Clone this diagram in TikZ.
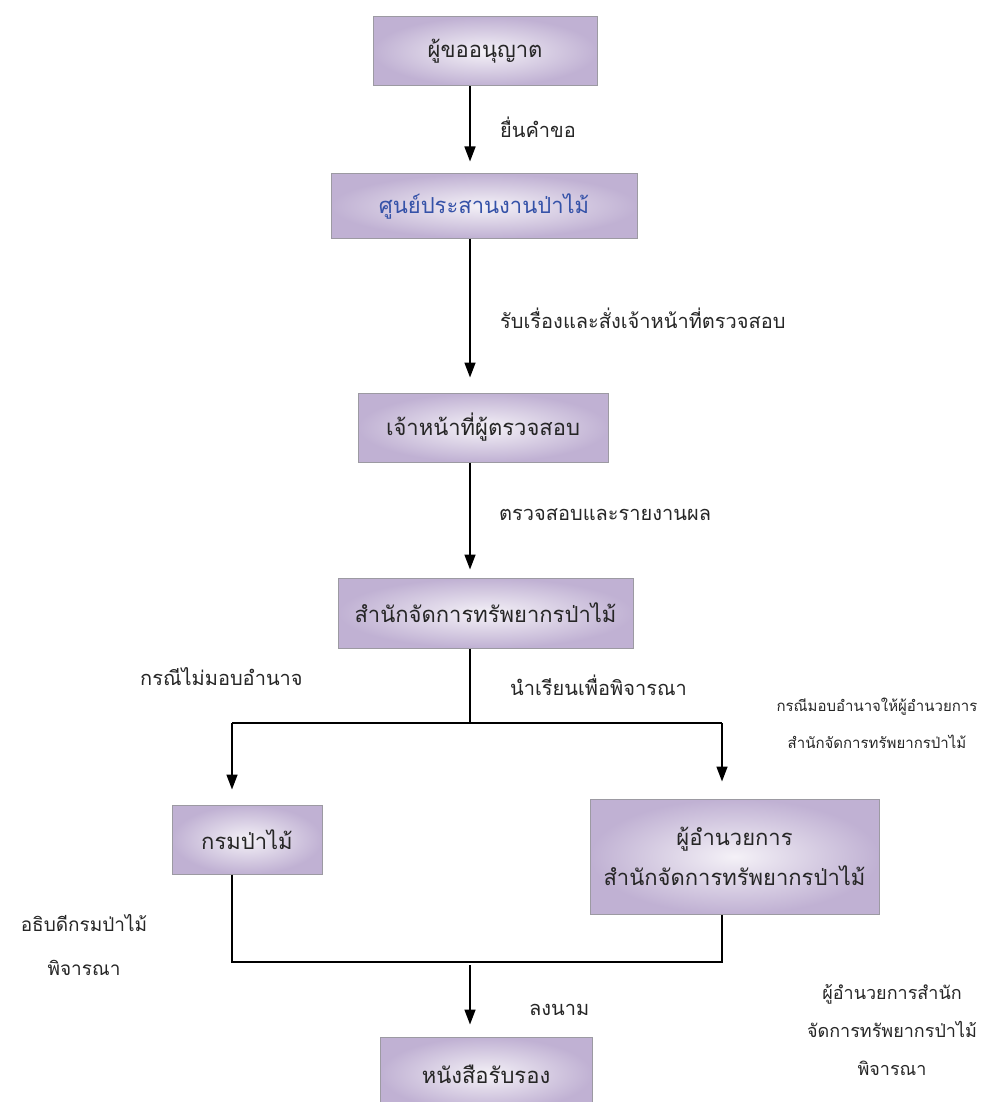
\documentclass[tikz,border=0pt]{standalone}
\usepackage{fontspec}
\usetikzlibrary{arrows.meta,calc}
\newfontfamily\thaifont[Script=Thai]{Loma}
\definecolor{boxin}{HTML}{F4F1F7}
\definecolor{boxout}{HTML}{C0B1D3}
\definecolor{boxline}{HTML}{9C9AA2}
\definecolor{bluetext}{HTML}{3552A8}
\tikzset{
  flowbox/.style={draw=boxline, line width=1pt, inner color=boxin, outer color=boxout,
    minimum width=#1, inner sep=0pt, font=\thaifont\fontsize{22}{40}\selectfont, text=black!85, align=center},
  lbl/.style={anchor=west, inner sep=0pt, font=\thaifont\fontsize{20}{24}\selectfont, text=black!85},
  smalllbl/.style={inner sep=0pt, align=center, text=black!85},
  conn/.style={line width=1.6pt, -{Triangle[width=11pt,length=15pt]}},
  plain/.style={line width=1.6pt}
}
\begin{document}
\begin{tikzpicture}[x=1pt,y=-1pt]
\clip (0,0) rectangle (999,1102);
\fill[white] (0,0) rectangle (999,1102);
% boxes
\node[flowbox=224pt, minimum height=69pt] (b1) at (485,51.5) {ผู้ขออนุญาต};
\node[flowbox=306pt, minimum height=64pt, text=bluetext] (b2) at (484,206) {ศูนย์ประสานงานป่าไม้};
\node[flowbox=250pt, minimum height=69pt] (b3) at (483,427.5) {เจ้าหน้าที่ผู้ตรวจสอบ};
\node[flowbox=295pt, minimum height=70pt] (b4) at (485.5,613) {สำนักจัดการทรัพยากรป่าไม้};
\node[flowbox=150pt, minimum height=69pt] (dept) at (247,839.5) {กรมป่าไม้};
\node[flowbox=289pt, minimum height=115pt] (dir) at (734.5,856.5) {ผู้อำนวยการ\\สำนักจัดการทรัพยากรป่าไม้};
\node[flowbox=212pt, minimum height=74pt] (cert) at (486,1074) {หนังสือรับรอง};
% spine and junctions
\coordinate (spine) at (470,0);
\coordinate (split) at (470,723);
\coordinate (sl) at (232,723);
\coordinate (sr) at (722,723);
\coordinate (jl) at (232,962);
\coordinate (jr) at (722,962);
\coordinate (jm) at (470,965);
% connectors
\draw[conn, shorten >=12pt] (b1.south -| spine) -- (b2.north -| spine);
\draw[conn, shorten >=15pt] (b2.south -| spine) -- (b3.north -| spine);
\draw[conn, shorten >=8pt] (b3.south -| spine) -- (b4.north -| spine);
\draw[plain] (b4.south -| spine) -- (split);
\draw[plain] (sl) -- (sr);
\draw[conn, shorten >=15pt] (sl) -- (dept.north -| sl);
\draw[conn, shorten >=17pt] (sr) -- (dir.north -| sr);
\draw[plain] (dept.south -| jl) -- (jl) -- (jr) -- (dir.south -| jr);
\draw[conn, shorten >=12pt] (jm) -- (cert.north -| jm);
% labels
\node[lbl] (l1) at (500,127) {ยื่นคำขอ};
\node[lbl] (l2) at (500,318) {รับเรื่องและสั่งเจ้าหน้าที่ตรวจสอบ};
\node[lbl] (l3) at (499,515) {ตรวจสอบและรายงานผล};
\node[lbl] (l4) at (140,677) {กรณีไม่มอบอำนาจ};
\node[lbl] (l5) at (510,685) {นำเรียนเพื่อพิจารณา};
\node[smalllbl, font=\thaifont\fontsize{15}{37}\selectfont] (l6) at (877,723) {กรณีมอบอำนาจให้ผู้อำนวยการ\\สำนักจัดการทรัพยากรป่าไม้};
\node[smalllbl, font=\thaifont\fontsize{19}{44}\selectfont] (l7) at (84,945) {อธิบดีกรมป่าไม้\\พิจารณา};
\node[lbl] (l8) at (529,1010) {ลงนาม};
\node[smalllbl, font=\thaifont\fontsize{18}{38}\selectfont] (l9) at (892,1030) {ผู้อำนวยการสำนัก\\จัดการทรัพยากรป่าไม้\\พิจารณา};
\end{tikzpicture}
\end{document}
